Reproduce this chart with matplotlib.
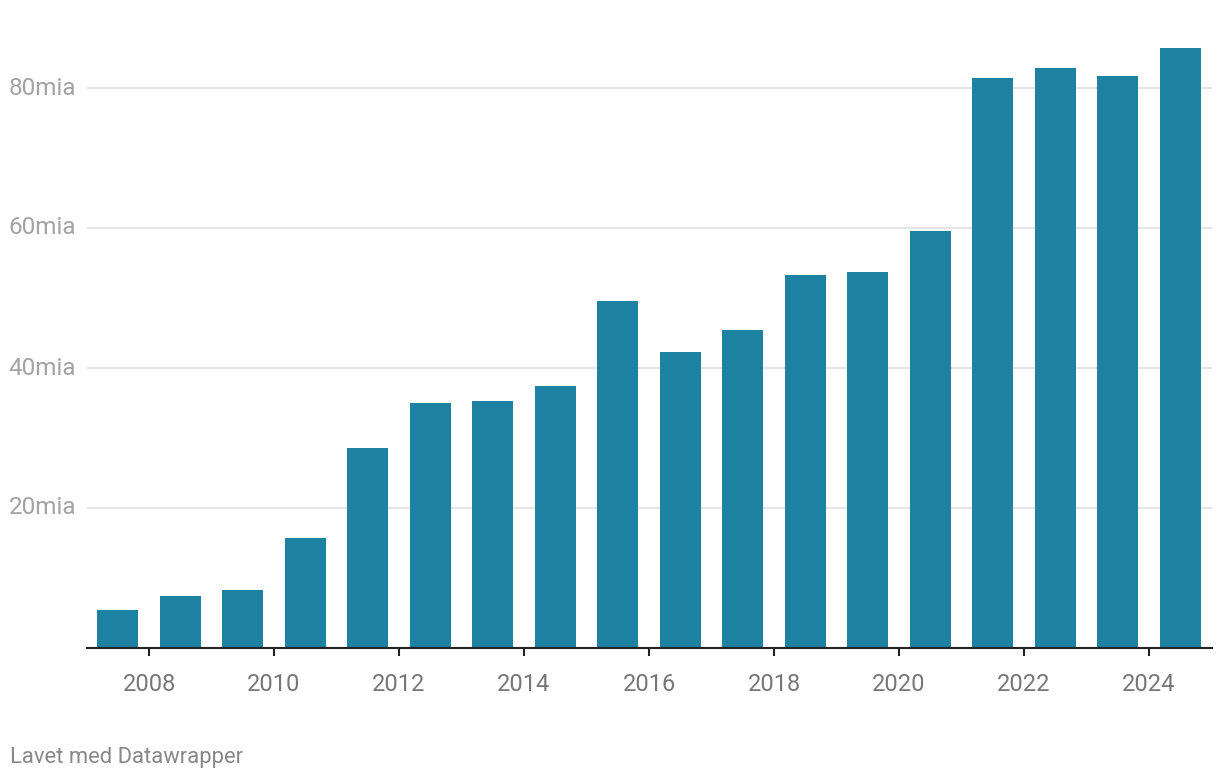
import matplotlib.pyplot as plt

years = list(range(2007, 2025))
values = [5.4, 7.4, 8.3, 15.7, 28.6, 35.0, 35.3, 37.4, 49.6, 42.3,
          45.4, 53.3, 53.7, 59.6, 81.4, 82.9, 81.7, 85.7]
x_ticks = [2008, 2010, 2012, 2014, 2016, 2018, 2020, 2022, 2024]
y_ticks = [20, 40, 60, 80]
y_labels = ['20mia', '40mia', '60mia', '80mia']

plt.rcParams['font.family'] = ['Roboto', 'DejaVu Sans']

fig = plt.figure(figsize=(12.2, 7.8), dpi=100)
ax = fig.add_axes([86.5 / 1220, 132 / 780, 1125 / 1220, 616 / 780])

# bars sit in the middle of each year, ticks at the year start
ax.bar([y + 0.5 for y in years], values, width=0.66, color='#1d81a2', zorder=3)

ax.set_xlim(2007, 2025)
ax.set_ylim(0, 88)

ax.set_yticks(y_ticks)
ax.set_yticklabels(y_labels)
ax.yaxis.grid(True, color='#e6e6e6', linewidth=1.5, zorder=0)
ax.tick_params(axis='y', length=0, pad=7.5, labelsize=17.5, labelcolor='#a3a3a3')
for lbl in ax.get_yticklabels():
    lbl.set_verticalalignment('center')

ax.set_xticks(x_ticks)
ax.set_xticklabels([str(y) for y in x_ticks])
ax.tick_params(axis='x', length=6, width=1.5, color='#222222', pad=12,
               labelsize=17, labelcolor='#777777')

for side in ['top', 'right', 'left']:
    ax.spines[side].set_visible(False)
ax.spines['bottom'].set_color('#222222')
ax.spines['bottom'].set_linewidth(1.5)
ax.spines['bottom'].set_zorder(4)

fig.text(10 / 1220, 1 - 757 / 780, 'Lavet med Datawrapper', fontsize=15.8,
         color='#888888', va='center', ha='left')

fig.savefig('out.png', dpi=100)
